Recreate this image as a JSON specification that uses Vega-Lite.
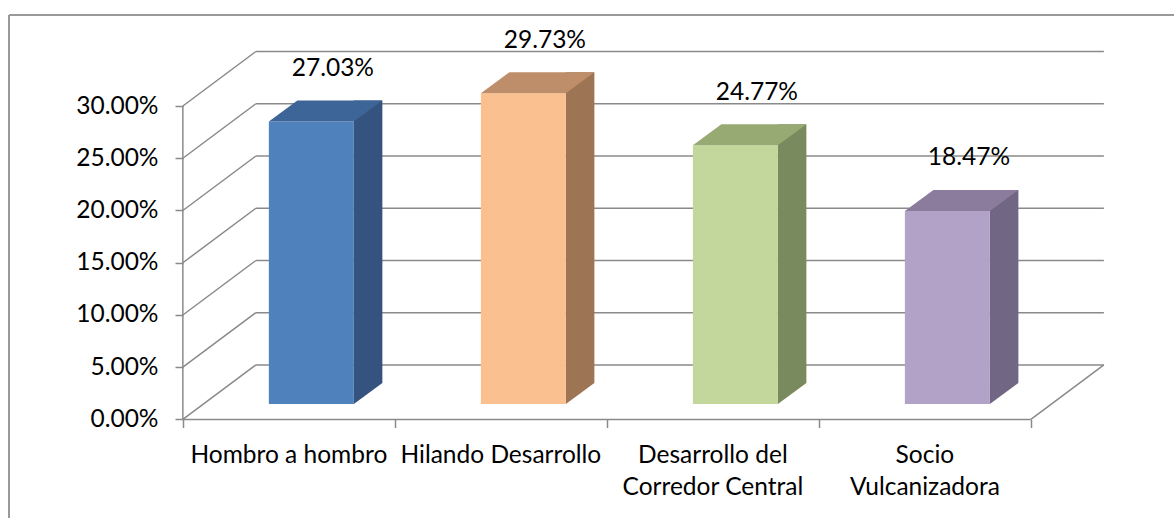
{
  "$schema": "https://vega.github.io/schema/vega-lite/v6.json",
  "width": 1165,
  "height": 503,
  "autosize": {"type": "none"},
  "padding": {"left": 9, "top": 15, "right": 0, "bottom": 0},
  "background": "white",
  "config": {
    "view": {"stroke": null},
    "axis": {"grid": false, "title": null, "tickColor": "#8a8a8a", "tickWidth": 1.5, "tickSize": 8, "domain": false, "labelFont": "Lato", "labelFontSize": 24.5, "labelColor": "#000000"}
  },
  "datasets": {
    "bars": [
      {"cat": "Hombro a hombro", "pos": 1, "value": 0.2703},
      {"cat": "Hilando Desarrollo", "pos": 2, "value": 0.2973},
      {"cat": "Desarrollo del\nCorredor Central", "pos": 3, "value": 0.2477},
      {"cat": "Socio\nVulcanizadora", "pos": 4, "value": 0.1847}
    ],
    "ticks": [{"t": 0}, {"t": 0.05}, {"t": 0.1}, {"t": 0.15}, {"t": 0.2}, {"t": 0.25}, {"t": 0.3}]
  },
  "resolve": {"scale": {"color": "independent"}},
  "layer": [
    {
      "data": {"name": "ticks"},
      "mark": {"type": "rule", "color": "#8a8a8a", "strokeWidth": 1.5, "xOffset": 73, "x2Offset": 73, "yOffset": -54.5},
      "encoding": {
        "x": {"datum": 0.5, "type": "quantitative", "scale": {"domain": [-0.32, 5.175], "nice": false, "zero": false},
              "axis": {"values": [0.5, 1.5, 2.5, 3.5, 4.5], "labels": false, "offset": -98.5, "orient": "bottom"}},
        "x2": {"datum": 4.5},
        "y": {"field": "t", "type": "quantitative", "scale": {"domain": [-0.0943, 0.3871], "nice": false, "zero": false},
              "axis": {"values": [0, 0.05, 0.1, 0.15, 0.2, 0.25, 0.3], "format": ".2%", "offset": -174, "labelPadding": 17, "orient": "left"}}
      }
    },
    {
      "data": {"name": "ticks"},
      "mark": {"type": "rule", "color": "#8a8a8a", "strokeWidth": 1.5, "x2Offset": 73, "y2Offset": -54.5},
      "encoding": {
        "x": {"datum": 0.5, "type": "quantitative"},
        "x2": {"datum": 0.5},
        "y": {"field": "t", "type": "quantitative"},
        "y2": {"field": "t"}
      }
    },
    {
      "data": {"values": [{}]},
      "mark": {"type": "rule", "color": "#8a8a8a", "strokeWidth": 1.5},
      "encoding": {
        "x": {"datum": 0.5, "type": "quantitative"},
        "x2": {"datum": 4.5},
        "y": {"datum": 0, "type": "quantitative"}
      }
    },
    {
      "data": {"values": [{}]},
      "mark": {"type": "rule", "color": "#8a8a8a", "strokeWidth": 1.5},
      "encoding": {
        "x": {"datum": 0.5, "type": "quantitative"},
        "y": {"datum": 0, "type": "quantitative"},
        "y2": {"datum": 0.3}
      }
    },
    {
      "data": {"values": [{}]},
      "mark": {"type": "rule", "color": "#8a8a8a", "strokeWidth": 1.5, "x2Offset": 73, "y2Offset": -54.5},
      "encoding": {
        "x": {"datum": 4.5, "type": "quantitative"},
        "x2": {"datum": 4.5},
        "y": {"datum": 0, "type": "quantitative"},
        "y2": {"datum": 0}
      }
    },
    {
      "data": {"values": [{}]},
      "mark": {"type": "rule", "color": "#9a9a9a", "strokeWidth": 2},
      "encoding": {
        "x": {"datum": -0.32, "type": "quantitative"},
        "y": {"datum": -0.0943, "type": "quantitative"},
        "y2": {"datum": 0.3871}
      }
    },
    {
      "data": {"values": [{}]},
      "mark": {"type": "rule", "color": "#9a9a9a", "strokeWidth": 2},
      "encoding": {
        "x": {"datum": -0.32, "type": "quantitative"},
        "x2": {"datum": 5.175},
        "y": {"datum": 0.3871, "type": "quantitative"}
      }
    },
    {
      "data": {"name": "bars"},
      "mark": {"type": "rect", "xOffset": 65, "x2Offset": 93.5, "yOffset": -36.5, "y2Offset": -36.5},
      "encoding": {
        "x": {"field": "pos", "type": "quantitative"},
        "x2": {"field": "pos"},
        "y": {"field": "value", "type": "quantitative"},
        "y2": {"datum": 0},
        "color": {"field": "cat", "type": "nominal", "legend": null,
                  "scale": {"domain": ["Hombro a hombro", "Hilando Desarrollo", "Desarrollo del\nCorredor Central", "Socio\nVulcanizadora"], "range": ["#34537e", "#9d7554", "#7a8a5f", "#726685"]}}
      }
    },
    {
      "data": {"name": "bars"},
      "mark": {"type": "point", "shape": "M65,-36.5L65,-15.5L93.5,-36.5Z", "size": 4, "filled": true, "opacity": 1, "strokeWidth": 0},
      "encoding": {
        "x": {"field": "pos", "type": "quantitative"},
        "y": {"datum": 0, "type": "quantitative"},
        "color": {"field": "cat", "type": "nominal", "legend": null,
                  "scale": {"domain": ["Hombro a hombro", "Hilando Desarrollo", "Desarrollo del\nCorredor Central", "Socio\nVulcanizadora"], "range": ["#34537e", "#9d7554", "#7a8a5f", "#726685"]}}
      }
    },
    {
      "data": {"name": "bars"},
      "mark": {"type": "rect", "xOffset": -20, "x2Offset": 65, "yOffset": -15.5, "y2Offset": -15.5},
      "encoding": {
        "x": {"field": "pos", "type": "quantitative"},
        "x2": {"field": "pos"},
        "y": {"field": "value", "type": "quantitative"},
        "y2": {"datum": 0},
        "color": {"field": "cat", "type": "nominal", "legend": null,
                  "scale": {"domain": ["Hombro a hombro", "Hilando Desarrollo", "Desarrollo del\nCorredor Central", "Socio\nVulcanizadora"], "range": ["#4f81bd", "#fac090", "#c3d69b", "#b3a2c7"]}}
      }
    },
    {
      "data": {"name": "bars"},
      "mark": {"type": "point", "shape": "M-20,0L65,0L93.5,-21L8.5,-21Z", "size": 4, "filled": true, "opacity": 1, "strokeWidth": 0, "yOffset": -15.5},
      "encoding": {
        "x": {"field": "pos", "type": "quantitative"},
        "y": {"field": "value", "type": "quantitative"},
        "color": {"field": "cat", "type": "nominal", "legend": null,
                  "scale": {"domain": ["Hombro a hombro", "Hilando Desarrollo", "Desarrollo del\nCorredor Central", "Socio\nVulcanizadora"], "range": ["#3e6597", "#be8e6a", "#98aa74", "#8b7c9d"]}}
      }
    },
    {
      "data": {"name": "bars"},
      "mark": {"type": "text", "font": "Lato", "fontSize": 24.5, "color": "#000000", "align": "center", "baseline": "alphabetic", "xOffset": 44, "yOffset": -61},
      "encoding": {
        "x": {"field": "pos", "type": "quantitative"},
        "y": {"field": "value", "type": "quantitative"},
        "text": {"field": "value", "type": "quantitative", "format": ".2%"}
      }
    },
    {
      "data": {"name": "bars"},
      "mark": {"type": "text", "font": "Lato", "fontSize": 24.5, "color": "#000000", "align": "center", "baseline": "alphabetic", "dy": 44, "lineBreak": "\n", "lineHeight": 32},
      "encoding": {
        "x": {"field": "pos", "type": "quantitative"},
        "y": {"datum": 0, "type": "quantitative"},
        "text": {"field": "cat", "type": "nominal"}
      }
    }
  ]
}
